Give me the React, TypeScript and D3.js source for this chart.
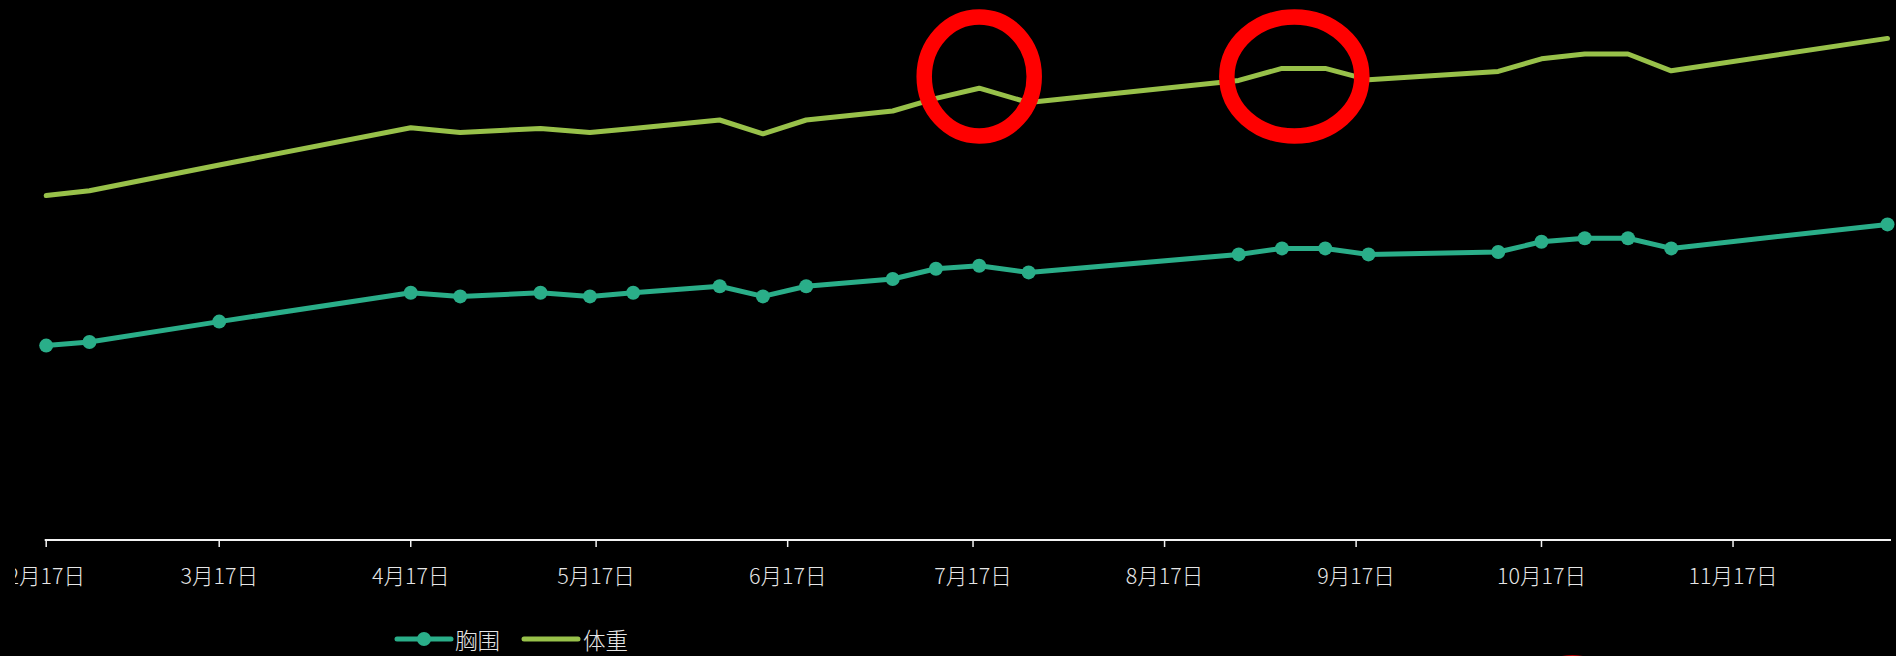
import React from "react";
import * as d3 from "d3";

const dates = [
  "2019-02-17", "2019-02-24", "2019-03-17", "2019-04-17", "2019-04-25",
  "2019-05-08", "2019-05-16", "2019-05-23", "2019-06-06", "2019-06-13",
  "2019-06-20", "2019-07-04", "2019-07-11", "2019-07-18", "2019-07-26",
  "2019-08-29", "2019-09-05", "2019-09-12", "2019-09-19", "2019-10-10",
  "2019-10-17", "2019-10-24", "2019-10-31", "2019-11-07", "2019-12-12",
];

const chest = [
  32.4, 33.0, 36.4, 41.2, 40.6, 41.2, 40.6, 41.2, 42.3, 40.6,
  42.3, 43.5, 45.2, 45.7, 44.6, 47.6, 48.6, 48.6, 47.6, 48.0,
  49.7, 50.3, 50.3, 48.6, 52.6,
];

const weight = [
  57.4, 58.2, 62.5, 68.7, 67.9, 68.6, 67.9, 68.6, 70.0, 67.7,
  70.0, 71.5, 73.6, 75.3, 72.9, 76.6, 78.6, 78.6, 76.7, 78.1,
  80.2, 81.0, 81.0, 78.2, 83.6,
];

const tickDates = [
  "2019-02-17", "2019-03-17", "2019-04-17", "2019-05-17", "2019-06-17",
  "2019-07-17", "2019-08-17", "2019-09-17", "2019-10-17", "2019-11-17",
];
const tickLabels = [
  "2月17日", "3月17日", "4月17日", "5月17日", "6月17日",
  "7月17日", "8月17日", "9月17日", "10月17日", "11月17日",
];

const seriesNames = ["胸围", "体重"];

// annotation ellipses (red circles drawn on the chart)
const annotationDates = ["2019-07-18", "2019-09-07", "2019-10-22"];
const annotationValues = [77.25, 77.25, -30.4];

const W = 1896;
const H = 656;
const CHEST_COLOR = "#2aae89";
const WEIGHT_COLOR = "#98c14a";
const TEXT_COLOR = "#e6e6e6";
const FONT = "'Noto Sans CJK SC', 'Noto Sans', sans-serif";

export default function App() {
  const parse = d3.timeParse("%Y-%m-%d");
  const pts = dates.map((d, i) => ({ date: parse(d) as Date, chest: chest[i], weight: weight[i] }));

  const x = d3
    .scaleTime()
    .domain([parse(dates[0]) as Date, parse(dates[dates.length - 1]) as Date])
    .range([46.2, 1887.5]);
  const y = d3.scaleLinear().domain([0, 90]).range([540, 0]);

  const chestLine = d3
    .line<any>()
    .x((d) => x(d.date))
    .y((d) => y(d.chest));
  const weightLine = d3
    .line<any>()
    .x((d) => x(d.date))
    .y((d) => y(d.weight));

  const axisY = y(0);
  const ticks = tickDates.map((t, i) => ({ x: x(parse(t) as Date), label: tickLabels[i] }));

  return (
    <svg
      width={W}
      height={H}
      style={{ position: "absolute", left: 0, top: 0, display: "block", background: "#000" }}
    >
      <defs>
        <clipPath id="labelClip">
          <rect x={15} y={0} width={W - 15} height={H} />
        </clipPath>
      </defs>
      <rect x={0} y={0} width={W} height={H} fill="#000" />

      {/* x axis */}
      <line x1={x.range()[0] - 1.5} x2={W - 5} y1={axisY} y2={axisY} stroke="#f2f2f2" strokeWidth={2} />
      {ticks.map((t, i) => (
        <line key={"t" + i} x1={t.x} x2={t.x} y1={axisY} y2={axisY + 7} stroke="#f2f2f2" strokeWidth={1.5} />
      ))}
      <g clipPath="url(#labelClip)">
        {ticks.map((t, i) => (
          <text
            key={"l" + i}
            x={t.x}
            y={584}
            textAnchor="middle"
            fill={TEXT_COLOR}
            fontFamily={FONT}
            fontWeight={300}
            fontSize={21.5}
          >
            {t.label}
          </text>
        ))}
      </g>

      {/* series */}
      <path
        d={weightLine(pts) || ""}
        fill="none"
        stroke={WEIGHT_COLOR}
        strokeWidth={5}
        strokeLinecap="round"
        strokeLinejoin="round"
      />
      <path
        d={chestLine(pts) || ""}
        fill="none"
        stroke={CHEST_COLOR}
        strokeWidth={5}
        strokeLinecap="round"
        strokeLinejoin="round"
      />
      {pts.map((p, i) => (
        <circle key={"c" + i} cx={x(p.date)} cy={y(p.chest)} r={7} fill={CHEST_COLOR} />
      ))}

      {/* annotations */}
      {annotationDates.map((d, i) => (
        <ellipse
          key={"a" + i}
          cx={x(parse(d) as Date)}
          cy={y(annotationValues[i])}
          rx={i === 1 ? 67.5 : 55}
          ry={59.5}
          fill="none"
          stroke="#ff0000"
          strokeWidth={15.5}
        />
      ))}

      {/* legend */}
      <g>
        <line x1={397} x2={451} y1={639} y2={639} stroke={CHEST_COLOR} strokeWidth={5} strokeLinecap="round" />
        <circle cx={424} cy={639} r={7} fill={CHEST_COLOR} />
        <text x={455} y={649} fill={TEXT_COLOR} fontFamily={FONT} fontWeight={300} fontSize={22.5}>
          {seriesNames[0]}
        </text>
        <line x1={524} x2={578} y1={639} y2={639} stroke={WEIGHT_COLOR} strokeWidth={5} strokeLinecap="round" />
        <text x={583} y={649} fill={TEXT_COLOR} fontFamily={FONT} fontWeight={300} fontSize={22.5}>
          {seriesNames[1]}
        </text>
      </g>
    </svg>
  );
}
